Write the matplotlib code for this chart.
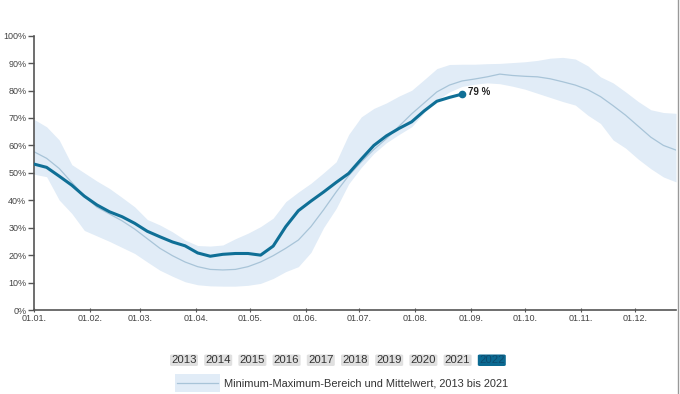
import matplotlib
matplotlib.use("Agg")
import matplotlib.pyplot as plt
from matplotlib.patches import FancyBboxPatch, Rectangle
from matplotlib.lines import Line2D
import numpy as np

plt.rcParams['font.family'] = ['Liberation Sans', 'DejaVu Sans']

# weekly data (day of year = 7 * week)
band_upper = [69.5, 66.8, 62.0, 53.0, 50.0, 47.0, 44.3, 41.0, 37.6, 33.0,
              31.0, 28.5, 25.5, 23.5, 23.3, 23.7, 26.0, 28.0, 30.4, 33.5,
              39.5, 43.0, 46.2, 50.0, 54.0, 64.0, 70.4, 73.5, 75.5, 78.0,
              80.1, 84.0, 88.0, 89.5, 89.6, 89.6, 89.8, 89.9, 90.2, 90.5,
              91.0, 91.8, 92.1, 91.5, 89.0, 85.0, 82.8, 79.5, 76.0, 73.0,
              72.0, 71.7]
band_lower = [49.5, 48.6, 40.1, 35.2, 29.0, 27.0, 25.0, 22.8, 20.6, 17.5,
              14.5, 12.3, 10.3, 9.2, 8.8, 8.7, 8.7, 9.0, 9.7, 11.5,
              14.0, 15.8, 21.0, 30.0, 37.0, 46.0, 52.0, 57.1, 61.0, 64.0,
              66.8, 72.0, 76.5, 79.5, 81.5, 82.3, 82.8, 82.5, 81.6, 80.5,
              79.0, 77.5, 76.0, 74.7, 71.0, 68.0, 62.0, 59.0, 55.0, 51.5,
              48.5, 46.7]
mean_vals = [57.7, 55.3, 51.6, 46.5, 41.5, 37.5, 35.0, 32.5, 29.5, 26.0,
             22.5, 19.8, 17.5, 15.8, 14.8, 14.6, 14.8, 15.8, 17.5, 19.8,
             22.5, 25.5, 30.4, 36.5, 43.0, 49.0, 54.0, 58.5, 62.5, 67.0,
             71.5, 75.5, 79.5, 82.0, 83.5, 84.2, 85.0, 86.0, 85.5, 85.2,
             85.0, 84.3, 83.2, 82.0, 80.3, 77.8, 74.5, 71.0, 67.0, 63.0,
             60.0, 58.3]
vals_2022 = [53.2, 52.0, 48.8, 45.5, 41.5, 38.3, 35.8, 34.0, 31.6, 28.7,
             26.7, 24.8, 23.4, 20.8, 19.6, 20.3, 20.6, 20.6, 20.0, 23.3,
             30.4, 36.2, 39.7, 43.0, 46.5, 49.8, 55.0, 60.0, 63.5, 66.2,
             68.6, 72.6, 76.1, 77.5, 78.7]
last_label = "79 %"

month_days = [0, 31, 59, 90, 120, 151, 181, 212, 243, 273, 304, 334]
month_labels = ["01.01.", "01.02.", "01.03.", "01.04.", "01.05.", "01.06.",
                "01.07.", "01.08.", "01.09.", "01.10.", "01.11.", "01.12."]
y_ticks = [0, 10, 20, 30, 40, 50, 60, 70, 80, 90, 100]
y_labels = [f"{v}%" for v in y_ticks]
years = ["2013", "2014", "2015", "2016", "2017", "2018", "2019", "2020", "2021", "2022"]
legend_text = "Minimum-Maximum-Bereich und Mittelwert, 2013 bis 2021"

days_all = np.arange(len(mean_vals)) * 7
days_2022 = np.arange(len(vals_2022)) * 7

W, H = 680, 394
fig = plt.figure(figsize=(W / 100, H / 100), dpi=100)
ax = fig.add_axes([34 / W, 1 - 310 / H, (676 - 34) / W, (310 - 35.7) / H])

band_col = "#e1ecf7"
mean_col = "#a8c4d8"
main_col = "#0f6f96"

ax.fill_between(days_all, band_lower, band_upper, color=band_col, lw=0, zorder=1)
ax.plot(days_all, mean_vals, color=mean_col, lw=0.9, zorder=2)
ax.plot(days_2022, vals_2022, color=main_col, lw=2.2, zorder=3, solid_joinstyle='round')
ax.plot(days_2022[-1], vals_2022[-1], 'o', color=main_col, ms=4.5, zorder=4)
ax.annotate(last_label, (days_2022[-1], vals_2022[-1]), xytext=(4.5, 1.5),
            textcoords='offset points', fontsize=7, fontweight='bold',
            color='#222222', va='center', ha='left')

ax.set_xlim(0, 357)
ax.set_ylim(0, 100)
ax.set_xticks(month_days)
ax.set_xticklabels(month_labels)
ax.set_yticks(y_ticks)
ax.set_yticklabels(y_labels)

for s in ['top', 'right']:
    ax.spines[s].set_visible(False)
for s in ['left', 'bottom']:
    ax.spines[s].set_color('#555555')
    ax.spines[s].set_linewidth(1.2)
ax.tick_params(axis='both', labelsize=6.5, colors='#555555', labelcolor='#444444')
ax.tick_params(axis='y', length=4, width=1, pad=1.5)
ax.tick_params(axis='x', length=3, width=0.8, pad=1.5, direction='inout')

# year buttons
bw, bh = 28, 11.5
for i, yr in enumerate(years):
    x0 = 170 + i * 34.2
    y0 = 354.5
    sel = (yr == "2022")
    fc = "#0b6991" if sel else "#e0e0e0"
    tc = "#0d4c70" if sel else "#333333"
    p = FancyBboxPatch((x0 / W, 1 - (y0 + bh) / H), bw / W, bh / H,
                       boxstyle="round,pad=0,rounding_size=0.003",
                       transform=fig.transFigure, fc=fc, ec='none')
    fig.patches.append(p)
    fig.text((x0 + bw / 2) / W, 1 - (y0 + bh / 2) / H, yr, fontsize=8.2,
             ha='center', va='center', color=tc)

# legend swatch
fig.patches.append(Rectangle((175 / W, 1 - 392 / H), 45 / W, 18 / H,
                             transform=fig.transFigure, fc=band_col, ec='none'))
fig.lines.append(Line2D([177 / W, 218 / W], [1 - 383 / H, 1 - 383 / H],
                        transform=fig.transFigure, color=mean_col, lw=0.9))
fig.text(224 / W, 1 - 383 / H, legend_text, fontsize=7.9, ha='left',
         va='center', color='#333333')

# right border line
fig.lines.append(Line2D([678.3 / W, 678.3 / W], [0, 1],
                        transform=fig.transFigure, color='#999999', lw=1))

fig.savefig("out.png", dpi=100)
